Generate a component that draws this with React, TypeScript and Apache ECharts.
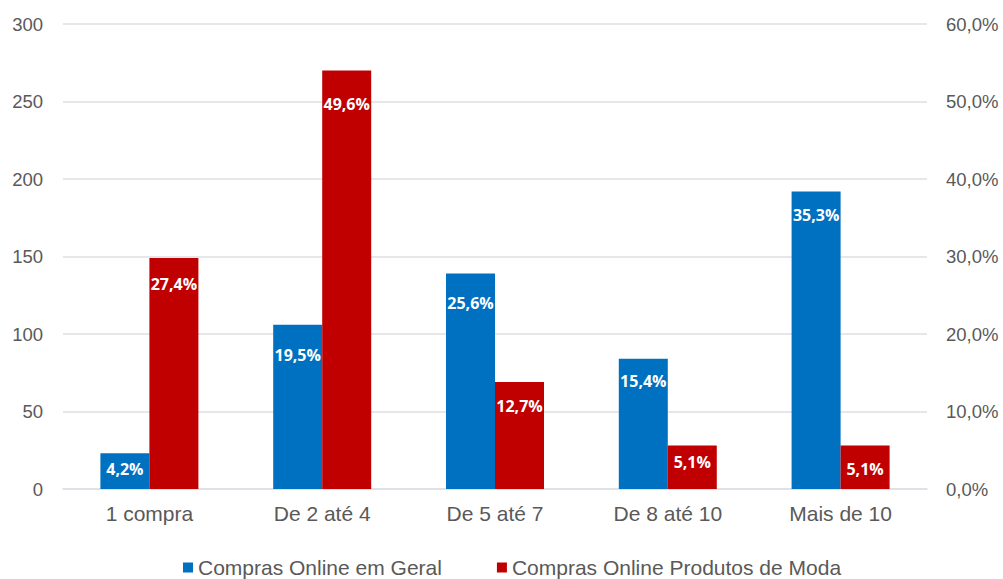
import React, { useEffect, useRef } from "react";
import * as echarts from "echarts";

// Number of buyers per purchase-frequency band
const categories = ["1 compra", "De 2 até 4", "De 5 até 7", "De 8 até 10", "Mais de 10"];
const geralCounts = [23, 106, 139, 84, 192];
const modaCounts = [149, 270, 69, 28, 28];

// Vertical drop of each value label below its bar top (px)
const geralLabelDrop = [8, 22, 21, 14, 16];
const modaLabelDrop = [18, 25, 16, 8, 15];

const BLUE = "#0070C0";
const RED = "#C00000";
const TEXT = "#595959";
const GRID = "#DCDFE4";

const pct = (v: number, arr: number[]) => {
  const total = arr.reduce((a, b) => a + b, 0);
  return ((v / total) * 100).toFixed(1).replace(".", ",") + "%";
};

const buildData = (arr: number[], drops: number[]) =>
  arr.map((v, i) => ({
    value: v,
    label: { distance: drops[i], formatter: pct(v, arr) },
  }));

export default function App() {
  const ref = useRef<HTMLDivElement>(null);

  useEffect(() => {
    if (!ref.current) return;
    const chart = echarts.init(ref.current, undefined, { renderer: "svg" });
    const labelStyle = {
      show: true,
      position: "insideTop",
      color: "#FFFFFF",
      fontFamily: "Open Sans",
      fontWeight: "bold",
      fontSize: 16,
    };
    chart.setOption({
      animation: false,
      backgroundColor: "#FFFFFF",
      grid: { left: 63, right: 76, top: 24, bottom: 90, containLabel: false },
      legend: {
        left: 183,
        top: 557,
        padding: 0,
        itemWidth: 10,
        itemHeight: 10,
        itemGap: 55,
        icon: "rect",
        textStyle: { color: TEXT, fontSize: 21, fontFamily: "Liberation Sans" },
        data: ["Compras Online em Geral", "Compras Online Produtos de Moda"],
      },
      xAxis: {
        type: "category",
        data: categories,
        axisTick: { show: false },
        axisLine: { lineStyle: { color: GRID, width: 1.5 } },
        axisLabel: { color: TEXT, fontSize: 21, fontFamily: "Liberation Sans", margin: 14 },
      },
      yAxis: [
        {
          type: "value",
          min: 0,
          max: 300,
          interval: 50,
          axisLine: { show: false },
          axisTick: { show: false },
          splitLine: { lineStyle: { color: GRID, width: 1.5 } },
          axisLabel: { color: TEXT, fontSize: 18.5, fontFamily: "Liberation Sans", margin: 20 },
        },
        {
          type: "value",
          min: 0,
          max: 60,
          interval: 10,
          position: "right",
          axisLine: { show: false },
          axisTick: { show: false },
          splitLine: { show: false },
          axisLabel: {
            color: TEXT,
            fontSize: 18.5,
            fontFamily: "Liberation Sans",
            margin: 19,
            formatter: (v: number) => v.toFixed(1).replace(".", ",") + "%",
          },
        },
      ],
      series: [
        {
          name: "Compras Online em Geral",
          type: "bar",
          yAxisIndex: 0,
          barWidth: 49,
          barGap: "0%",
          itemStyle: { color: BLUE },
          label: labelStyle,
          data: buildData(geralCounts, geralLabelDrop),
        },
        {
          name: "Compras Online Produtos de Moda",
          type: "bar",
          yAxisIndex: 0,
          barWidth: 49,
          barGap: "0%",
          itemStyle: { color: RED },
          label: labelStyle,
          data: buildData(modaCounts, modaLabelDrop),
        },
      ],
    });
    return () => chart.dispose();
  }, []);

  return (
    <div
      ref={ref}
      style={{ position: "fixed", left: 0, top: 0, width: 1003, height: 579, background: "#fff" }}
    />
  );
}
